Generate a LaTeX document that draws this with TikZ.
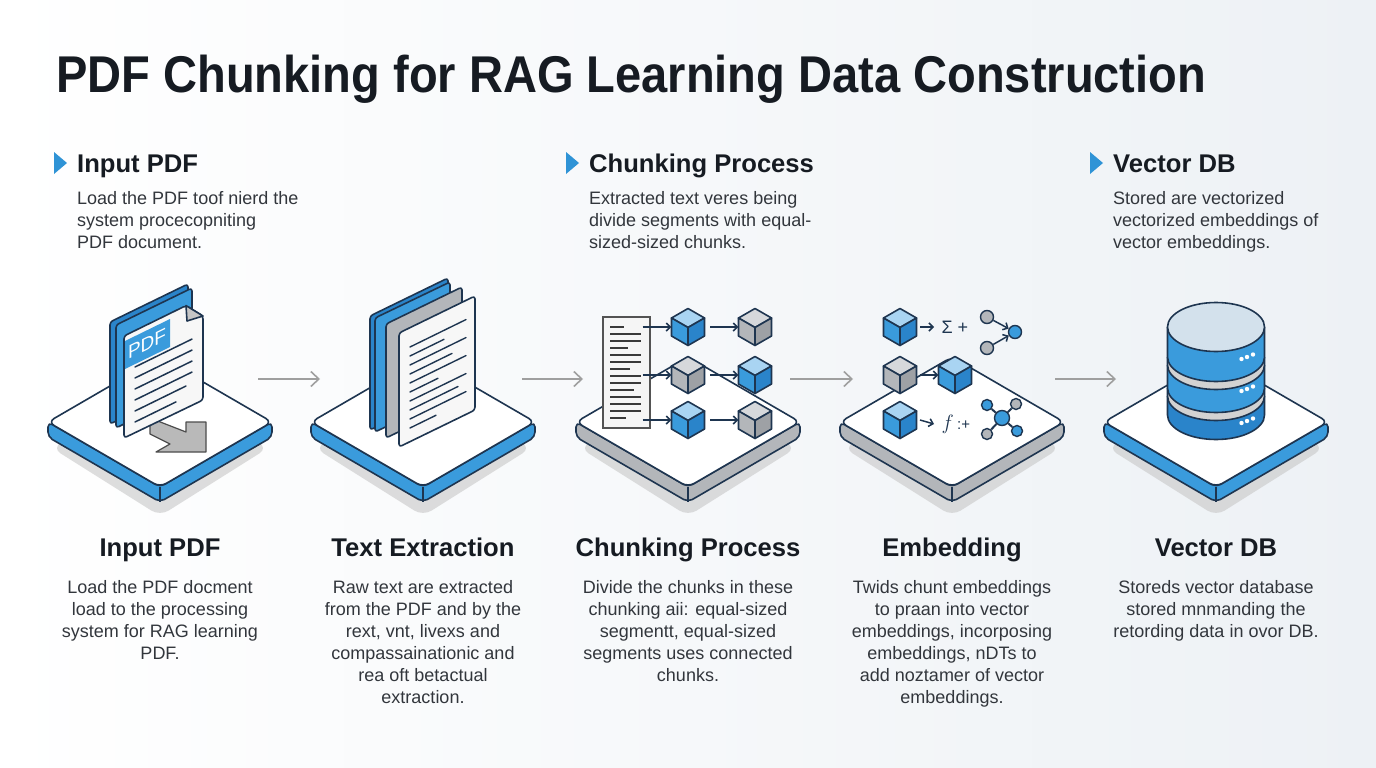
\documentclass[tikz,border=0pt]{standalone}
\usepackage{fontspec}
\setmainfont{Liberation Sans}
\newfontfamily\titlefont{Liberation Sans}[FakeStretch=0.91]
\usepackage{xcolor}
\usepackage{tikz}
\usetikzlibrary{arrows.meta}
\usetikzlibrary{calc}
\definecolor{navy}{HTML}{1E3550}
\definecolor{bside}{HTML}{3A9BDC}
\definecolor{bdark}{HTML}{2A84CA}
\definecolor{blight}{HTML}{A9D4F2}
\definecolor{gside}{HTML}{B3B6BA}
\definecolor{gdark}{HTML}{9EA1A5}
\definecolor{glight}{HTML}{D6D8DB}
\definecolor{ink}{HTML}{161B22}
\definecolor{bgright}{HTML}{EDF1F5}
\definecolor{dbtop}{HTML}{D3E1EC}
\definecolor{markblue}{HTML}{2F93D6}
\tikzstyle{outl} = [draw=navy, line width=1.6pt, line join=round]
\tikzstyle{flow} = [-{Straight Barb[length=8pt,width=15pt]}, draw=gray!75, line width=1.6pt]
\tikzstyle{tick} = [-{Straight Barb[length=4pt,width=8pt]}, draw=navy, line width=1.5pt]
\tikzstyle{ball} = [circle, draw=navy, line width=1.4pt, inner sep=0pt]
\tikzstyle{head} = [font=\fontsize{25.6}{30}\selectfont\bfseries, text=ink, inner sep=0pt]
\tikzstyle{body} = [font=\fontsize{18}{22}\selectfont, text=ink!88, inner sep=0pt]
\newcommand{\platform}[2]{
	\begin{scope}[shift={(#1,0)}]
	\fill[black!22, opacity=.6, rounded corners=10pt] (-108,448) -- (0,386) -- (108,448) -- (0,516) -- cycle;
	\draw[outl, fill=#2, rounded corners=5pt] (-112,422) -- (0,487) -- (112,422) -- (112,437) -- (0,502) -- (-112,437) -- cycle;
	\draw[outl] (0,487) -- (0,502);
	\draw[outl, fill=white, rounded corners=7pt] (-112,422) -- (0,357) -- (112,422) -- (0,487) -- cycle;
	\end{scope}}
\newcommand{\drawcube}[4]{
	\begin{scope}[shift={(#2,#3)}]
	\draw[outl, fill=#4light] (0,-18.5) -- (16.5,-9) -- (0,0.5) -- (-16.5,-9) -- cycle;
	\draw[outl, fill=#4side] (-16.5,-9) -- (0,0.5) -- (0,18.5) -- (-16.5,9) -- cycle;
	\draw[outl, fill=#4dark] (0,0.5) -- (16.5,-9) -- (16.5,9) -- (0,18.5) -- cycle;
	\end{scope}
	\node[minimum width=33pt, minimum height=37pt, inner sep=0pt] (#1) at (#2,#3) {};}
\newcommand{\disk}[3]{
	\fill[#3] (-48.5,#1) rectangle (48.5,#2);
	\fill[#3] (0,#2) ellipse [x radius=48.5, y radius=24.5];
	\draw[outl] (-48.5,#1) -- (-48.5,#2) arc [start angle=180, end angle=0, x radius=48.5, y radius=24.5] -- (48.5,#1);}

\begin{document}
\begin{tikzpicture}[x=1pt, y=-1pt]
	\useasboundingbox (0,0) rectangle (1376,768);
	\shade[left color=white, right color=bgright] (0,0) rectangle (1376,768);

	\node[font=\titlefont\fontsize{51.7}{60}\selectfont\bfseries, text=ink, anchor=base west, inner sep=0pt] (title) at (56,92.3) {PDF Chunking for RAG Learning Data Construction};

	\fill[markblue] (54,152) -- (67,163) -- (54,174) -- cycle;
	\node[head, anchor=base west] (h1) at (77,172.3) {Input PDF};
	\node[body, anchor=north west, align=left] (b1) at (77,191) {Load the PDF toof nierd the\\system procecopniting\\PDF document.};
	\fill[markblue] (566,152) -- (579,163) -- (566,174) -- cycle;
	\node[head, anchor=base west] (h2) at (589,172.3) {Chunking Process};
	\node[body, anchor=north west, align=left] (b2) at (589,191) {Extracted text veres being\\divide segments with equal-\\sized-sized chunks.};
	\fill[markblue] (1090,152) -- (1103,163) -- (1090,174) -- cycle;
	\node[head, anchor=base west] (h3) at (1113,172.3) {Vector DB};
	\node[body, anchor=north west, align=left] (b3) at (1113,191) {Stored are vectorized\\vectorized embeddings of\\vector embeddings.};

	\platform{160}{bside}
	\platform{423}{bside}
	\platform{688}{gside}
	\platform{952}{gside}
	\platform{1216}{bside}

	\foreach \i/\a/\b in {1/258/320, 2/522/583, 3/790/853, 4/1055/1116}{
		\coordinate (fa\i) at (\a,379);
		\coordinate (fb\i) at (\b,379);
		\draw[flow] (fa\i) -- (fb\i);
	}

	\draw[outl, fill=bdark, rounded corners=3pt] (110,424) -- (110,322) -- (188,284) -- (188,386) -- cycle;
	\draw[outl, fill=bside, rounded corners=3pt] (116,428) -- (116,325) -- (192,288) -- (192,390) -- cycle;
	\draw[draw=gray!60!black, line width=1.2pt, fill=gray!55, line join=round] (150,418) -- (186,432) -- (186,422) -- (206,422) -- (206,452) -- (156,452) -- (170,444) -- (150,434) -- cycle;
	\draw[outl, fill=gray!6, rounded corners=3pt] (124,438) -- (124,336) -- (186,305.6) -- (203,316) -- (203,400) -- cycle;
	\draw[outl, fill=gray!45, line join=round] (186,305.6) -- (187,321) -- (203,316) -- cycle;
	\fill[bside] (125,341) -- (170,319) -- (170,347) -- (125,369) -- cycle;
	\node[font=\fontsize{19}{19}\selectfont, text=white, yslant=0.49] (pdftag) at (147,344) {PDF};
	\foreach \k/\e in {0/192, 1/192, 2/192, 3/192, 4/186, 5/176}
		\draw[navy, line width=1.5pt, line cap=round] (135,{367+11*\k}) -- (\e,{367+11*\k-(\e-135)*0.49});

	\draw[outl, fill=bdark, rounded corners=3pt] (370,430) -- (370,316) -- (448,278) -- (448,392) -- cycle;
	\draw[outl, fill=bside, rounded corners=3pt] (375,432) -- (375,318) -- (450,282) -- (450,396) -- cycle;
	\draw[outl, fill=gside, rounded corners=3pt] (386,438) -- (386,324) -- (462,287) -- (462,401) -- cycle;
	\draw[outl, fill=gray!6, rounded corners=3pt] (399,447) -- (399,333) -- (475,296) -- (475,410) -- cycle;
	\foreach \k/\e in {0/466, 1/444, 2/466, 3/452, 4/466, 5/438, 6/466, 7/458, 8/466, 9/436}
		\draw[navy, line width=1.4pt, line cap=round] (410,{347+9*\k}) -- (\e,{347+9*\k-(\e-410)*0.49});

	\node[draw=gray!65!black, fill=gray!8, line width=1.3pt, minimum width=47pt, minimum height=111pt, inner sep=0pt] (srcdoc) at (626.5,372.5) {};
	\foreach \yy/\e in {327/624, 334/641, 341/641, 348/628, 355/641, 362/641, 369/630, 376/641, 383/641, 390/634, 397/641, 404/641, 411/641, 418/626}
		\draw[gray!45!black, line width=1.6pt] (610,\yy) -- (\e,\yy);
	\drawcube{c11}{688}{327}{b}
	\drawcube{c12}{755}{327}{g}
	\drawcube{c21}{688}{375}{g}
	\drawcube{c22}{755}{375}{b}
	\drawcube{c31}{688}{420}{b}
	\drawcube{c32}{755}{420}{g}
	\foreach \r in {1,2,3}{
		\draw[tick] (srcdoc.east |- c\r1) ++(-8,0) -- (c\r1);
		\draw[tick] (c\r1) ++(22,0) -- (c\r2);
	}

	\drawcube{e1}{900}{327}{b}
	\drawcube{e2}{900}{375}{g}
	\drawcube{e3}{900}{420}{b}
	\drawcube{e4}{955}{375}{b}
	\coordinate (s1) at (934,327);
	\coordinate (s3) at (934,424);
	\draw[tick] (e1) ++(20,0) -- (s1);
	\draw[tick] (e2) ++(20,0) -- (e4);
	\draw[tick] (e3) ++(20,0) -- (s3);
	\node[font=\fontsize{18}{18}\selectfont, text=navy, anchor=west] (sig) at (938,327) {Σ +};
	\node[font=\fontsize{20}{20}\selectfont, text=navy, anchor=west] (fx) at (938,424) {$f$\,{\fontsize{15}{15}\selectfont :+}};
	\node[ball, fill=gside, minimum size=13pt] (g1) at (987,317) {};
	\node[ball, fill=gside, minimum size=13pt] (g2) at (987,348) {};
	\node[ball, fill=bside, minimum size=13pt] (g3) at (1015,332) {};
	\draw[tick] (g1) -- (g3);
	\draw[tick] (g2) -- (g3);
	\node[ball, fill=bside, minimum size=15pt] (n0) at (1002,418) {};
	\node[ball, fill=bside, minimum size=11pt] (n1) at (987,405) {};
	\node[ball, fill=gside, minimum size=11pt] (n2) at (1016,404) {};
	\node[ball, fill=gside, minimum size=11pt] (n3) at (987,434) {};
	\node[ball, fill=bside, minimum size=11pt] (n4) at (1017,431) {};
	\foreach \j in {1,2,3,4}
		\draw[navy, line width=2pt] (n0) -- (n\j);

	\begin{scope}[shift={(1216,0)}]
		\disk{396}{415}{bdark}
		\disk{388}{396}{gray!35}
		\disk{365}{388}{bside}
		\disk{357}{365}{gray!35}
		\disk{327}{357}{bside}
		\draw[outl, fill=dbtop] (0,327) ellipse [x radius=48.5, y radius=24.5];
		\foreach \yy in {359,391,423}
			\foreach \dx/\dy in {25.5/0, 31/-2, 37/-4.5}
				\fill[white] (\dx,\yy+\dy) circle [radius=2.2];
	\end{scope}

	\node[head, anchor=base] (t1) at (160,556.7) {Input PDF};
	\node[body, anchor=north, align=center] (d1) at (160,580.5) {Load the PDF docment\\load to the processing\\system for RAG learning\\PDF.};
	\node[head, anchor=base] (t2) at (423,556.7) {Text Extraction};
	\node[body, anchor=north, align=center] (d2) at (423,580.5) {Raw text are extracted\\from the PDF and by the\\rext, vnt, livexs and\\compassainationic and\\rea oft betactual\\extraction.};
	\node[head, anchor=base] (t3) at (688,556.7) {Chunking Process};
	\node[body, anchor=north, align=center] (d3) at (688,580.5) {Divide the chunks in these\\chunking aii: equal-sized\\segmentt, equal-sized\\segments uses connected\\chunks.};
	\node[head, anchor=base] (t4) at (952,556.7) {Embedding};
	\node[body, anchor=north, align=center] (d4) at (952,580.5) {Twids chunt embeddings\\to praan into vector\\embeddings, incorposing\\embeddings, nDTs to\\add noztamer of vector\\embeddings.};
	\node[head, anchor=base] (t5) at (1216,556.7) {Vector DB};
	\node[body, anchor=north, align=center] (d5) at (1216,580.5) {Storeds vector database\\stored mnmanding the\\retording data in ovor DB.};
\end{tikzpicture}
\end{document}
